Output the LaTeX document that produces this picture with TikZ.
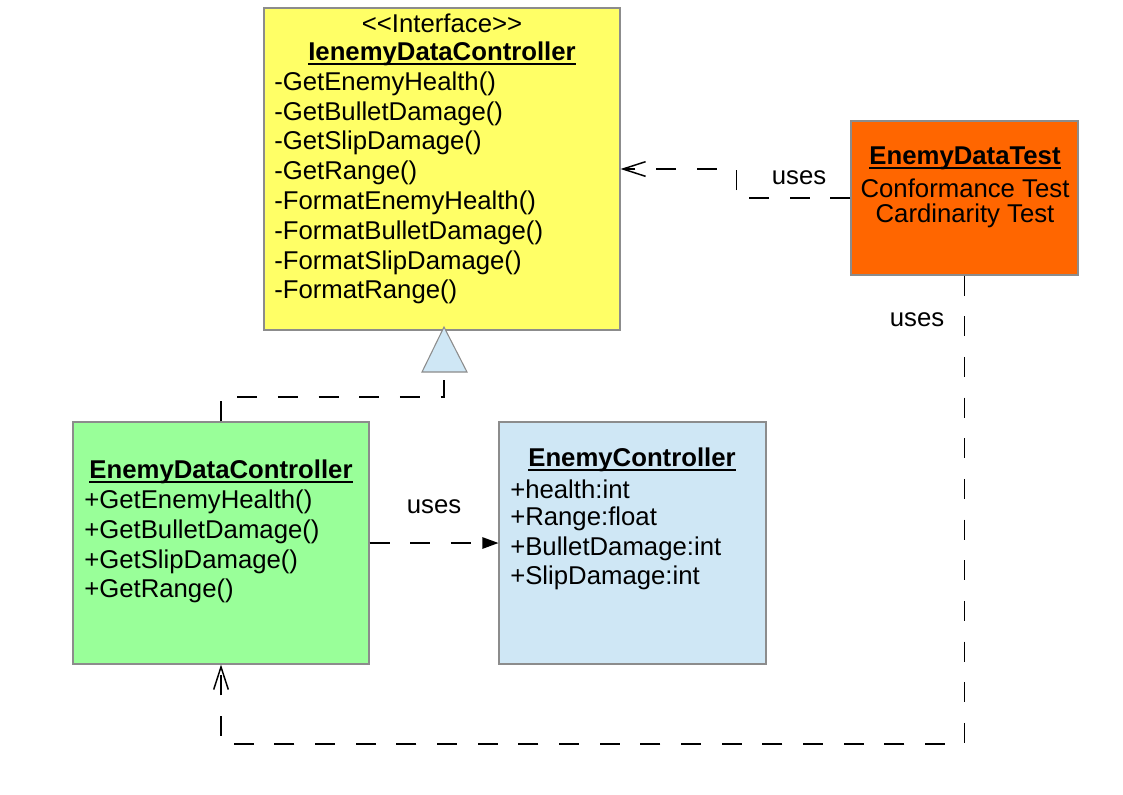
\documentclass[tikz,border=0pt]{standalone}
\usepackage{fontspec}
\setmainfont{Liberation Sans}
\usetikzlibrary{arrows.meta,calc}
\definecolor{cyel}{HTML}{FFFF66}
\definecolor{corg}{HTML}{FF6600}
\definecolor{cgrn}{HTML}{99FF99}
\definecolor{cblu}{HTML}{CFE7F5}
\definecolor{boxgray}{HTML}{8C8C8C}
\newcommand\fsz{\fontsize{19.3}{23}\selectfont}
\newcommand\myul[1]{\leavevmode\setbox0=\hbox{#1}\rlap{\rule[-3.6pt]{\wd0}{1.4pt}}\box0}
\begin{document}
\begin{tikzpicture}[x=0.75pt,y=-0.75pt,
  box/.style={draw=boxgray, line width=0.8pt, inner sep=0pt},
  txt/.style={inner sep=0pt, font=\fsz, anchor=west},
  ctxt/.style={inner sep=0pt, font=\fsz},
  ttl/.style={inner sep=0pt, font=\fsz\bfseries, anchor=base},
  conn/.style={line width=1.1pt, dash pattern=on 15pt off 15.5pt},
  openhead/.style={-{Straight Barb[length=17pt,width=11pt,line width=1.1pt]}},
  fillhead/.style={-{Triangle[length=12pt,width=8.5pt]}}]
\useasboundingbox (0,0) rectangle (1123,794);
% boxes
\node[box, fill=cyel, minimum width=267pt, minimum height=241.5pt] (iface) at (442,169) {};
\node[box, fill=corg, minimum width=170.25pt, minimum height=115.5pt] (test) at (964.5,198) {};
\node[box, fill=cgrn, minimum width=222pt, minimum height=181.5pt] (dc) at (221,543) {};
\node[box, fill=cblu, minimum width=200.25pt, minimum height=181.5pt] (ec) at (632.5,543) {};
% realization triangle
\filldraw[fill=cblu, draw=boxgray, line width=0.8pt] (422,372) -- (444,327) -- (467,372) -- cycle;
\coordinate (trib) at (444,377);
% interface text
\node[ctxt] (ifs) at (442,23) {<{}<Interface>{}>};
\node[ttl] (ift) at (442,60) {\myul{IenemyDataController}};
\node[txt] (if1) at (274,84) {-GetEnemyHealth()};
\node[txt] (if2) at (274,114) {-GetBulletDamage()};
\node[txt] (if3) at (274,143) {-GetSlipDamage()};
\node[txt] (if4) at (274,173) {-GetRange()};
\node[txt] (if5) at (274,203) {-FormatEnemyHealth()};
\node[txt] (if6) at (274,233) {-FormatBulletDamage()};
\node[txt] (if7) at (274,263) {-FormatSlipDamage()};
\node[txt] (if8) at (274,292) {-FormatRange()};
% test text
\node[ttl] (tt) at (965,164) {\myul{EnemyDataTest}};
\node[ctxt] (t1) at (965,188) {Conformance Test};
\node[ctxt] (t2) at (965,216) {Cardinarity Test};
% data controller text
\node[ttl] (dct) at (221,478) {\myul{EnemyDataController}};
\node[txt] (dc1) at (84,502) {+GetEnemyHealth()};
\node[txt] (dc2) at (84,532) {+GetBulletDamage()};
\node[txt] (dc3) at (84,562) {+GetSlipDamage()};
\node[txt] (dc4) at (84,591) {+GetRange()};
% enemy controller text
\node[ttl] (ect) at (632,466) {\myul{EnemyController}};
\node[txt] (ec1) at (510,489) {+health:int};
\node[txt] (ec2) at (510,519) {+Range:float};
\node[txt] (ec3) at (510,549) {+BulletDamage:int};
\node[txt] (ec4) at (510,578) {+SlipDamage:int};
% connectors
\draw[conn] (dc.north) |- ($(trib)+(0,20)$) -- (trib);
\draw[conn, openhead] (test.west) -- ++(-114,0) |- (iface.east);
\draw[conn, openhead] (test.south) -- (test.south |- 0,744) -| (dc.south);
\draw[conn, fillhead] (dc.east) -- (ec.west);
% labels
\node[ctxt] (u1) at (799,178) {uses};
\node[ctxt] (u2) at (917,320) {uses};
\node[ctxt] (u3) at (434,507) {uses};
\end{tikzpicture}
\end{document}
